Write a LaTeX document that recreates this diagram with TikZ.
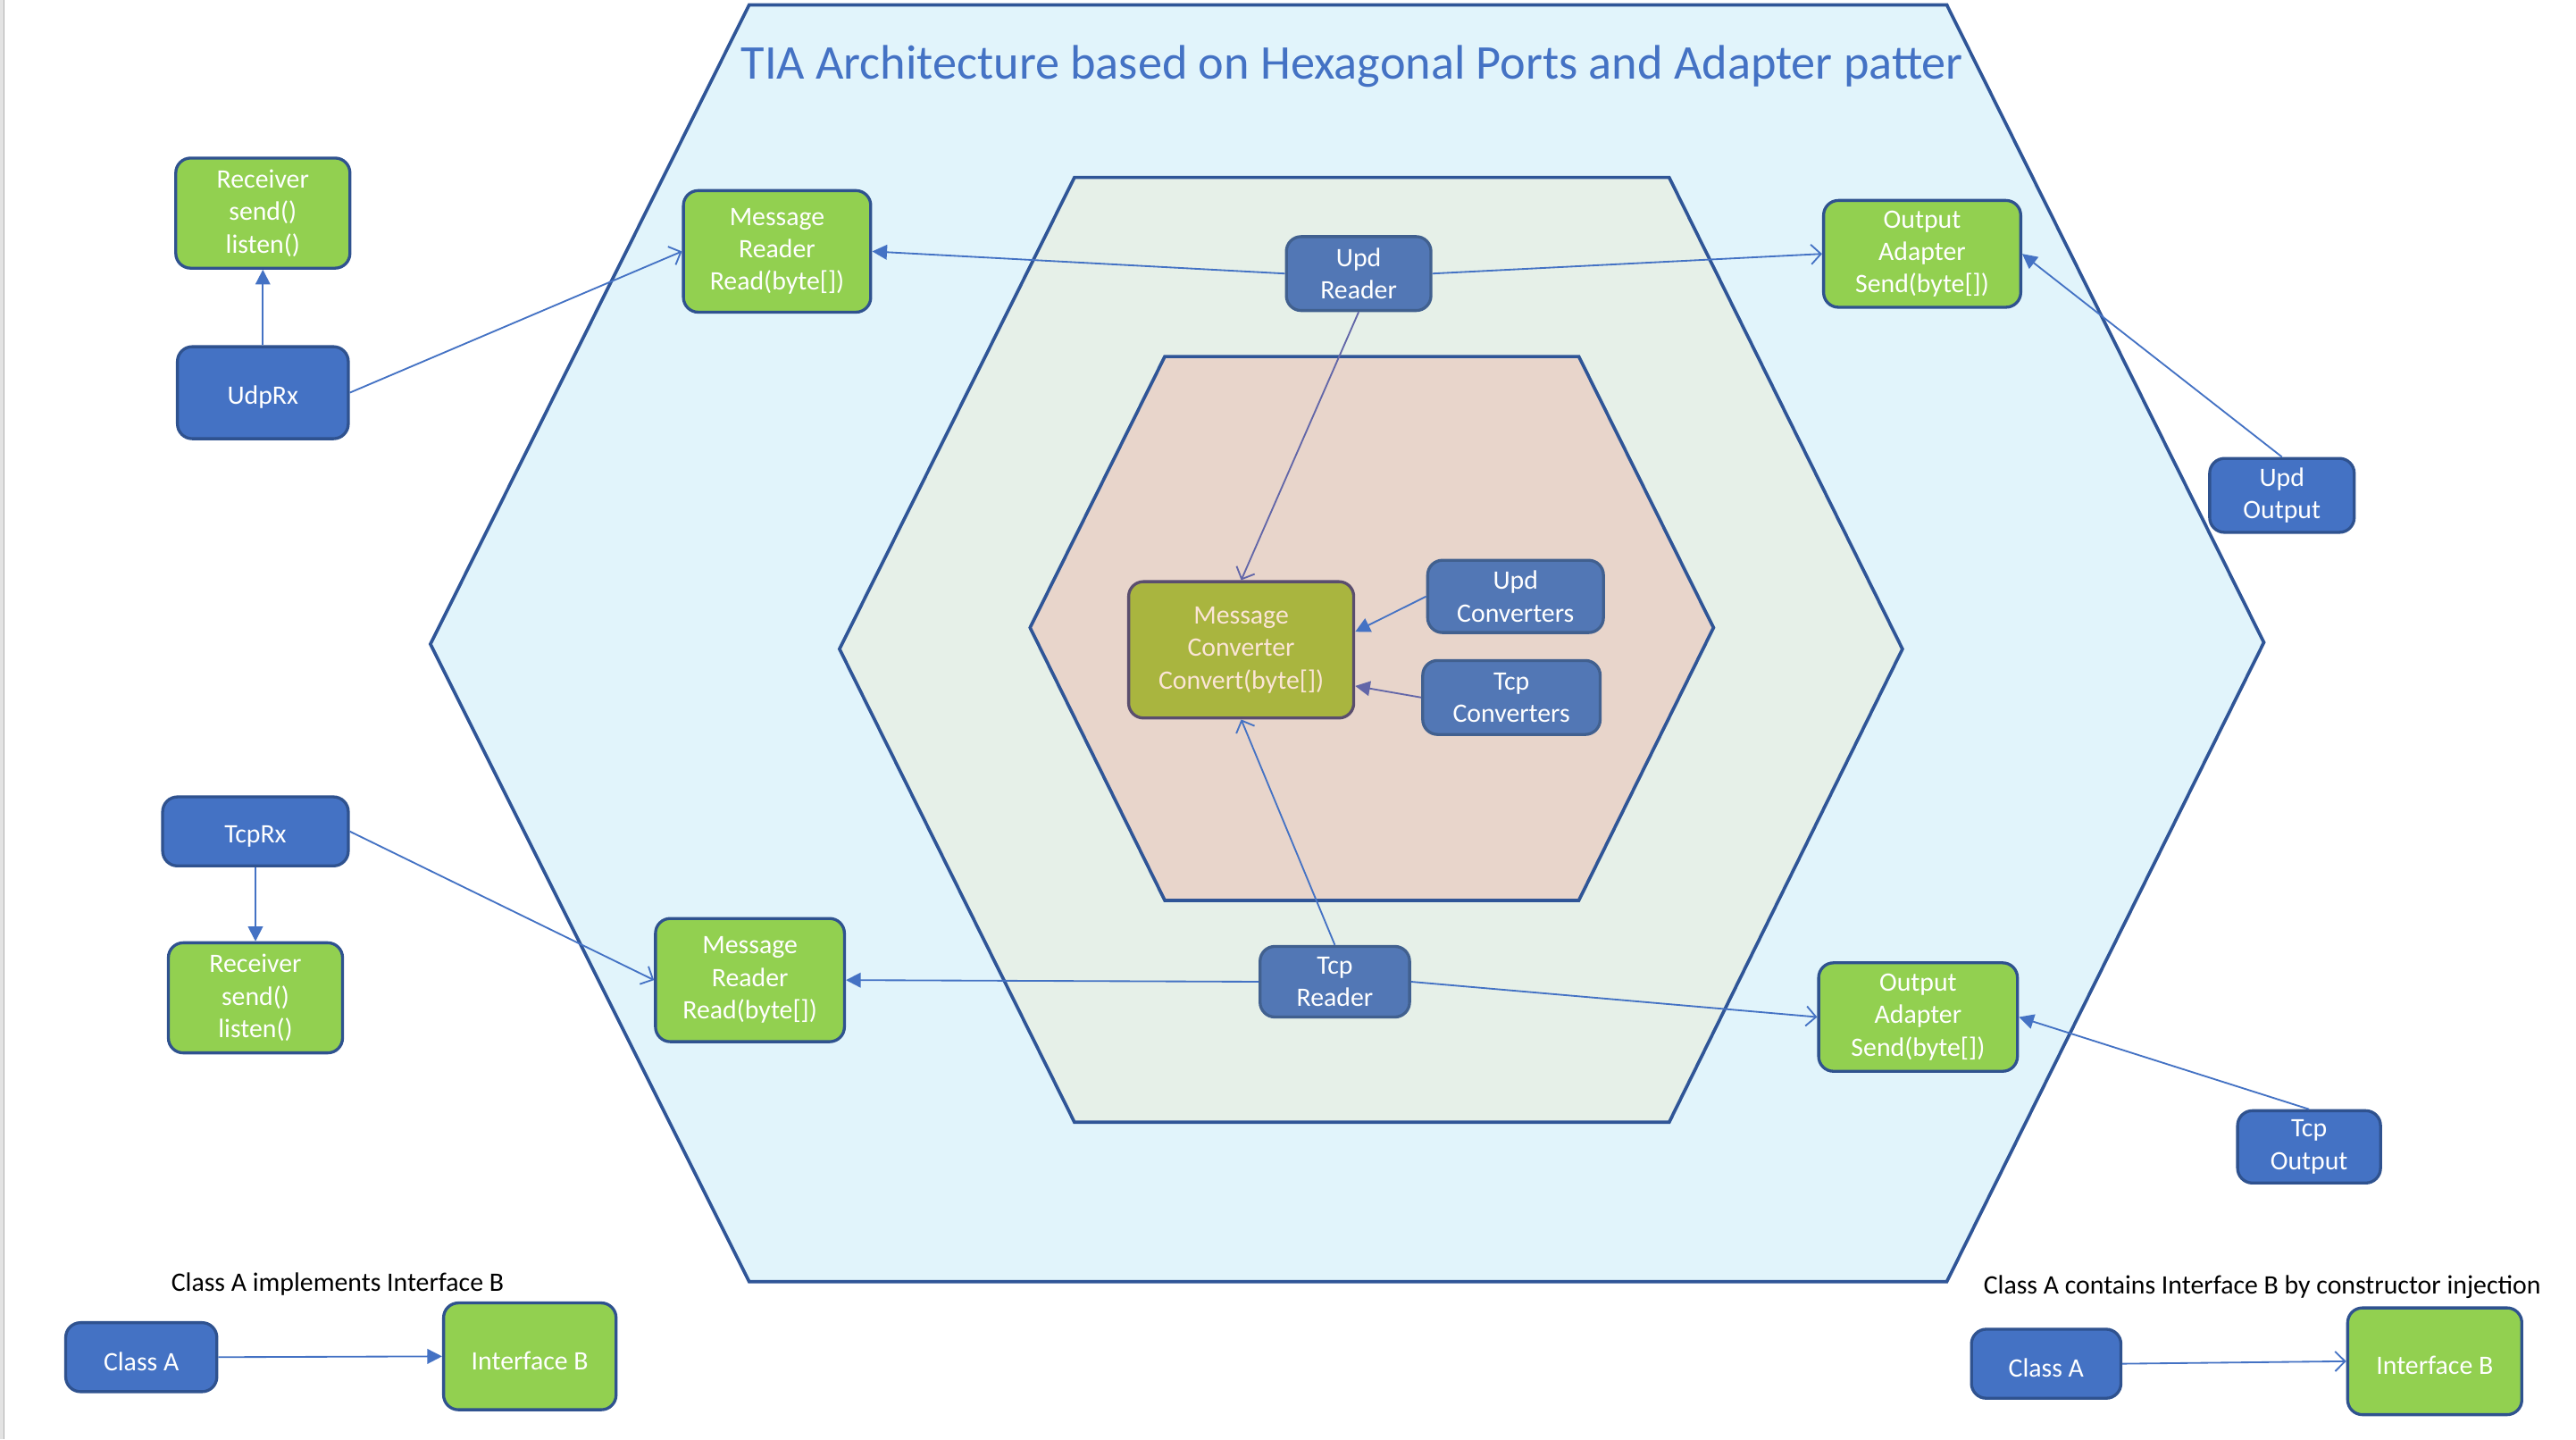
\documentclass[tikz,border=0pt]{standalone}
\usepackage{fontspec}
\setmainfont{Carlito}
\usetikzlibrary{arrows.meta, positioning}
\usepackage{xcolor}
\newcommand{\TxtReceiver}{Receiver\\send()\\listen()}
\newcommand{\TxtMsgReader}{Message\\Reader\\Read(byte[])}
\newcommand{\TxtOutAdapter}{Output\\Adapter\\Send(byte[])}
\newcommand{\TxtMsgConv}{Message\\Converter\\Convert(byte[])}
\definecolor{portgreen}{HTML}{92D050}
\definecolor{implblue}{HTML}{4472C4}
\definecolor{innerblue}{HTML}{5277B5}
\definecolor{portline}{HTML}{2F528F}
\definecolor{innerline}{HTML}{41608F}
\definecolor{coregreen}{HTML}{A9B53F}
\definecolor{coreline}{HTML}{5A4E6E}
\definecolor{coretext}{HTML}{FBE5D6}
\definecolor{linkblue}{HTML}{4472C4}
\definecolor{linkpurple}{HTML}{6266A8}
\definecolor{hexline}{HTML}{2F5597}
\definecolor{outerfill}{HTML}{E1F4FB}
\definecolor{middlefill}{HTML}{E6F0E8}
\definecolor{innerfill}{HTML}{E8D5CB}

\tikzset{
  port/.style={draw=portline, fill=portgreen, line width=1.8pt, rounded corners=9pt,
    text=white, align=center, inner sep=0pt,
    execute at begin node={\rule{0pt}{16.5pt}}},
  impl/.style={port, fill=implblue},
  innerimpl/.style={port, draw=innerline, fill=innerblue},
  core/.style={port, draw=coreline, fill=coregreen, text=coretext},
  uses/.style={draw=linkblue, line width=1pt, -{Triangle[length=9pt,width=9pt]}},
  feeds/.style={draw=linkblue, line width=1pt, -{Straight Barb[length=6pt,width=12pt]}},
  hexa/.style={draw=hexline, line width=2pt, line join=miter}
}

\begin{document}
\begin{tikzpicture}[x=1pt, y=-1pt, font=\fontsize{16.2}{19.8}\selectfont]
  \fill[white] (0,0) rectangle (1568,876);
  \useasboundingbox (0,0) rectangle (1568,876);
  \fill[gray!22] (0,0) rectangle (2,876);
  \draw[gray!60, line width=0.8pt] (2.4,0) -- (2.4,876);

  % hexagons
  \draw[hexa, fill=outerfill]  (456,3) -- (1185,3) -- (1378,391) -- (1185,780) -- (456,780) -- (262,392) -- cycle;
  \draw[hexa, fill=middlefill] (654,108) -- (1016,108) -- (1158,395) -- (1016,683) -- (654,683) -- (511,395) -- cycle;
  \draw[hexa, fill=innerfill]  (709,217) -- (961,217) -- (1043,382) -- (961,548) -- (709,548) -- (627,382) -- cycle;

  \node[anchor=base, text=implblue, font=\fontsize{29.5}{35}\selectfont] (Title) at (823,48)
    {TIA Architecture based on Hexagonal Ports and Adapter patter};

  % udp side
  \node[impl, minimum width=104pt, minimum height=56pt] (UdpRx) at (160,239) {UdpRx};
  \node[port, minimum width=106pt, minimum height=67pt, above=46pt of UdpRx] (RecvUdp) {\TxtReceiver};
  \node[port, minimum width=114pt, minimum height=74pt] (MsgRdUdp) at (473,153) {\TxtMsgReader};
  \node[innerimpl, minimum width=88pt, minimum height=45pt] (UpdReader) at (827,166.5) {Upd\\Reader};
  \node[port, minimum width=120pt, minimum height=65pt] (OutAdUdp) at (1170,154.5) {\TxtOutAdapter};
  \node[impl, minimum width=88pt, minimum height=45pt] (UpdOutput) at (1389,301.5) {Upd\\Output};

  % core
  \node[core, minimum width=137pt, minimum height=83pt] (MsgConv) at (755.5,395.5) {\TxtMsgConv};
  \node[innerimpl, minimum width=107pt, minimum height=44pt] (UpdConv) at (922.5,363) {Upd\\Converters};
  \node[innerimpl, minimum width=108pt, minimum height=45pt] (TcpConv) at (920,424.5) {Tcp\\Converters};

  % tcp side
  \node[impl, minimum width=113pt, minimum height=42pt] (TcpRx) at (155.5,506) {TcpRx};
  \node[port, minimum width=106pt, minimum height=67pt, below=45pt of TcpRx] (RecvTcp) {\TxtReceiver};
  \node[port, minimum width=115pt, minimum height=75pt] (MsgRdTcp) at (456.5,596.5) {\TxtMsgReader};
  \node[innerimpl, minimum width=91pt, minimum height=43pt] (TcpReader) at (812.5,597.5) {Tcp\\Reader};
  \node[port, minimum width=121pt, minimum height=66pt] (OutAdTcp) at (1167.5,619) {\TxtOutAdapter};
  \node[impl, minimum width=87pt, minimum height=44pt] (TcpOutput) at (1405.5,698) {Tcp\\Output};

  % legend
  \node[anchor=base] (LblImpl) at (205.5,786) {Class A implements Interface B};
  \node[impl, minimum width=92pt, minimum height=42pt] (ClsAImpl) at (86,826) {Class A};
  \node[port, minimum width=105pt, minimum height=65pt] (IfBImpl) at (322.5,825.5) {Interface B};
  \node[anchor=base] (LblInj) at (1377,787.5) {Class A contains Interface B by constructor injection};
  \node[impl, minimum width=91pt, minimum height=42pt] (ClsAInj) at (1245.5,830) {Class A};
  \node[port, minimum width=106pt, minimum height=65pt] (IfBInj) at (1482,828.5) {Interface B};

  \draw (UdpRx.north) edge[uses] (RecvUdp.south);
  \draw (UdpRx.east) edge[feeds] (MsgRdUdp.west);
  \draw (UpdReader.west) edge[uses] (MsgRdUdp.east);
  \draw (UpdReader.east) edge[feeds] (OutAdUdp.west);
  \draw (UpdReader.south) edge[feeds, linkpurple] (MsgConv.north);
  \draw (UpdOutput.north) edge[uses] (OutAdUdp.east);
  \draw (UpdConv.west) edge[uses] ([yshift=11pt]MsgConv.east);
  \draw (TcpConv.west) edge[uses, linkpurple] ([yshift=-22pt]MsgConv.east);
  \draw (TcpReader.north) edge[feeds] (MsgConv.south);
  \draw (TcpRx.south) edge[uses] (RecvTcp.north);
  \draw (TcpRx.east) edge[feeds] (MsgRdTcp.west);
  \draw (TcpReader.west) edge[uses] (MsgRdTcp.east);
  \draw (TcpReader.east) edge[feeds] (OutAdTcp.west);
  \draw (TcpOutput.north) edge[uses] (OutAdTcp.east);
  \draw (ClsAImpl.east) edge[uses] (IfBImpl.west);
  \draw (ClsAInj.east) edge[feeds] (IfBInj.west);
\end{tikzpicture}
\end{document}
